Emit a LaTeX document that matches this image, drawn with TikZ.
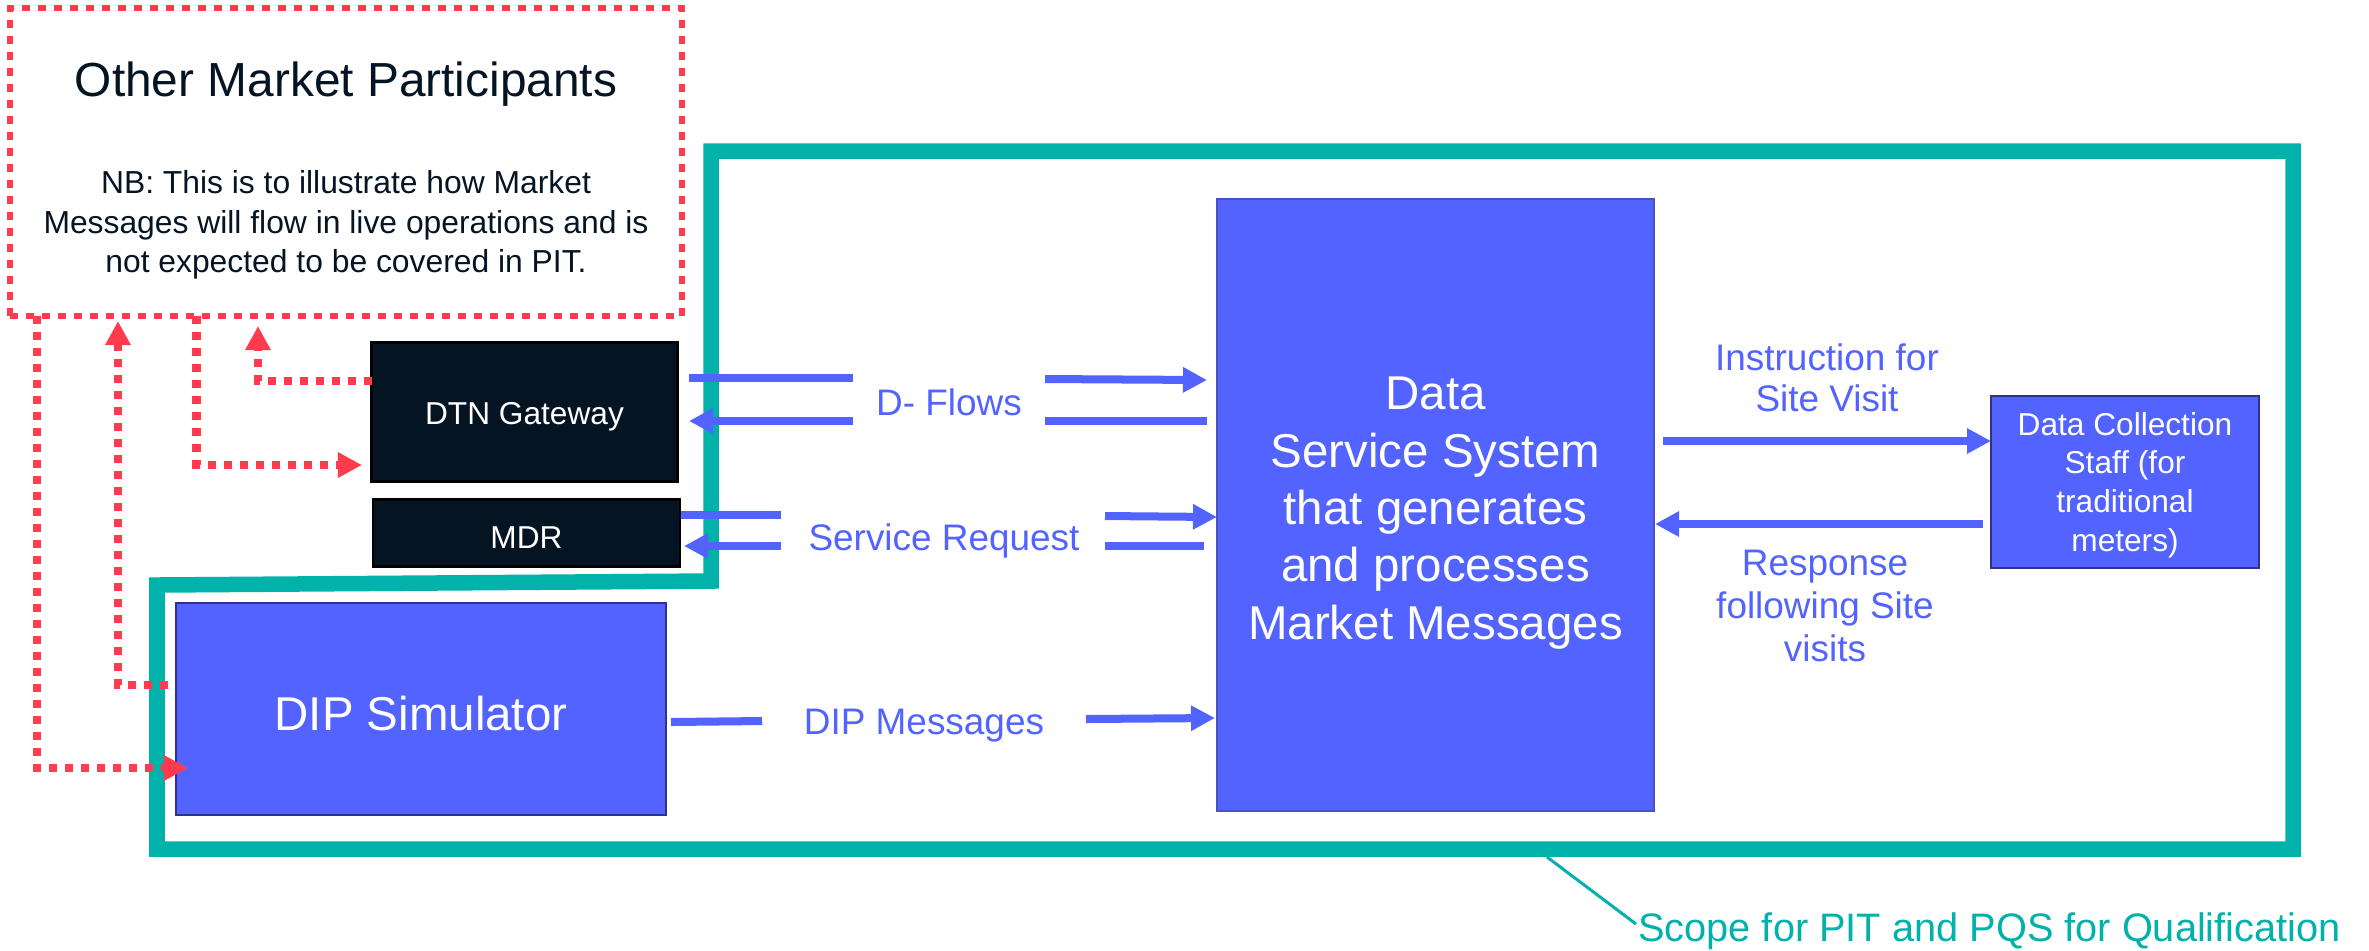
\documentclass[tikz,border=0pt]{standalone}
\usepackage{fontspec}
\setmainfont{Liberation Sans}
\usetikzlibrary{arrows.meta}
\definecolor{flowblue}{HTML}{5263FF}
\definecolor{edgeblue}{HTML}{2E3288}
\definecolor{softblue}{HTML}{4A52C0}
\definecolor{scopeteal}{HTML}{00B2AA}
\definecolor{mktred}{HTML}{FF3B4D}
\definecolor{nightblue}{HTML}{051423}
\tikzset{
  blockbox/.style={draw=edgeblue,line width=0.02cm,fill=flowblue,text=white,inner sep=0pt,align=center},
  darkbox/.style={draw=black,line width=0.025cm,fill=nightblue,text=white,inner sep=0pt,align=center},
  flowlabel/.style={text=flowblue,inner sep=0pt,align=center},
  flowline/.style={draw=flowblue,line width=0.08cm},
  flowarrow/.style={flowline,-{Triangle[length=0.24cm,width=0.24cm]}},
  mktline/.style={draw=mktred,line width=0.08cm,dash pattern=on 0.08cm off 0.08cm},
  mktarrow/.style={mktline,-{Triangle[length=0.24cm,width=0.24cm]}},
}
\begin{document}
\begin{tikzpicture}[x=0.01cm,y=-0.01cm]
  \useasboundingbox (0,0) rectangle (2369,950);
  \draw [draw=scopeteal,line width=0.155cm,miter limit=10] (711,151) -- (2293,151) -- (2293,849) -- (157,849) -- (157,585) -- (711,581) -- cycle;
  \node [minimum width=6.72cm,minimum height=3.08cm,draw=mktred,line width=0.06cm,dash pattern=on 0.08cm off 0.08cm,inner sep=0pt] (mkt) at (346,162) {};
  \node [text=nightblue,inner sep=0pt,font=\fontsize{13.6}{16}\selectfont] (mkttitle) at (346,84) {Other Market Participants};
  \node [text=nightblue,inner sep=0pt,align=center,font=\fontsize{9.05}{11.2}\selectfont] (mktnote) at (346,225) {NB: This is to illustrate how Market\\Messages will flow in live operations and is\\not expected to be covered in PIT.};
  \node [darkbox,minimum width=3.06cm,minimum height=1.39cm] (dtn) at (524.5,412) {};
  \node [text=white,inner sep=0pt,font=\fontsize{9}{11}\selectfont] (dtntext) at (524.5,417) {DTN Gateway};
  \node [darkbox,minimum width=3.07cm,minimum height=0.67cm] (mdr) at (526.5,533) {};
  \node [text=white,inner sep=0pt,font=\fontsize{9}{11}\selectfont] (mdrtext) at (526.5,537.5) {MDR};
  \node [blockbox,minimum width=4.9cm,minimum height=2.12cm] (dip) at (421,709) {};
  \node [text=white,inner sep=0pt,font=\fontsize{13.5}{16}\selectfont] (diptext) at (421,713.5) {DIP Simulator};
  \node [blockbox,draw=softblue,minimum width=4.37cm,minimum height=6.12cm] (dss) at (1435.5,505) {};
  \node [text=white,inner sep=0pt,align=center,font=\fontsize{13.5}{16.3}\selectfont] (dsstext) at (1435.5,513) {Data\\Service System\\that generates\\and processes\\Market Messages};
  \node [blockbox,minimum width=2.68cm,minimum height=1.72cm] (staff) at (2125,482) {};
  \node [text=white,inner sep=0pt,align=center,font=\fontsize{9}{11}\selectfont] (stafftext) at (2125,485) {Data Collection\\Staff (for\\traditional\\meters)};
  \node [flowlabel,font=\fontsize{10.5}{12}\selectfont] (dflows) at (949,402) {D- Flows};
  \node [flowlabel,font=\fontsize{10.5}{12}\selectfont] (srvreq) at (944,541) {Service Request};
  \node [flowlabel,font=\fontsize{10.5}{12}\selectfont] (dipmsg) at (924,726) {DIP Messages};
  \node [flowlabel,font=\fontsize{10.5}{11.55}\selectfont] (visit) at (1827,378) {Instruction for\\Site Visit};
  \node [flowlabel,font=\fontsize{10.5}{12.2}\selectfont] (reply) at (1825,606) {Response\\following Site\\visits};
  \node [text=scopeteal,inner sep=0pt,font=\fontsize{11.3}{13}\selectfont] (scope) at (1989.5,931.5) {Scope for PIT and PQS for Qualification};
  \coordinate (scopeedge) at (1547,857);
  \coordinate (scopeend) at (1636,924);
  \coordinate (da) at (689,378);
  \coordinate (db) at (853,378);
  \coordinate (dc) at (1045,379);
  \coordinate (dd) at (1207,380);
  \coordinate (de) at (1207,421);
  \coordinate (df) at (1045,421);
  \coordinate (dg) at (853,421);
  \coordinate (dh) at (689,421);
  \coordinate (sa) at (681,515);
  \coordinate (sb) at (781,515);
  \coordinate (sc) at (1105,516);
  \coordinate (sd) at (1217,517);
  \coordinate (se) at (1204,546);
  \coordinate (sf) at (1105,546);
  \coordinate (sg) at (781,546);
  \coordinate (sh) at (684,546);
  \coordinate (pa) at (671,722);
  \coordinate (pb) at (762,721);
  \coordinate (pc) at (1086,719);
  \coordinate (pd) at (1215,718);
  \coordinate (va) at (1663,441);
  \coordinate (vb) at (1991,441);
  \coordinate (ra) at (1983,524);
  \coordinate (rb) at (1655,524);
  \coordinate (ma) at (37,316);
  \coordinate (mb) at (37,768);
  \coordinate (mc) at (188,768);
  \coordinate (md) at (168,685);
  \coordinate (me) at (118,685);
  \coordinate (mf) at (118,321);
  \coordinate (mg) at (196.5,316);
  \coordinate (mh) at (196.5,465);
  \coordinate (mi) at (362,465);
  \coordinate (mj) at (372,381);
  \coordinate (mk) at (258,381);
  \coordinate (ml) at (258,326);
  \draw [draw=scopeteal,line width=0.03cm] (scopeedge) -- (scopeend);
  \draw [flowline] (da) -- (db);
  \draw [flowarrow] (dc) -- (dd);
  \draw [flowline] (de) -- (df);
  \draw [flowarrow] (dg) -- (dh);
  \draw [flowline] (sa) -- (sb);
  \draw [flowarrow] (sc) -- (sd);
  \draw [flowline] (se) -- (sf);
  \draw [flowarrow] (sg) -- (sh);
  \draw [flowline] (pa) -- (pb);
  \draw [flowarrow] (pc) -- (pd);
  \draw [flowarrow] (va) -- (vb);
  \draw [flowarrow] (ra) -- (rb);
  \draw [mktarrow] (ma) -- (mb) -- (mc);
  \draw [mktarrow] (md) -- (me) -- (mf);
  \draw [mktarrow] (mg) -- (mh) -- (mi);
  \draw [mktarrow] (mj) -- (mk) -- (ml);
\end{tikzpicture}
\end{document}
